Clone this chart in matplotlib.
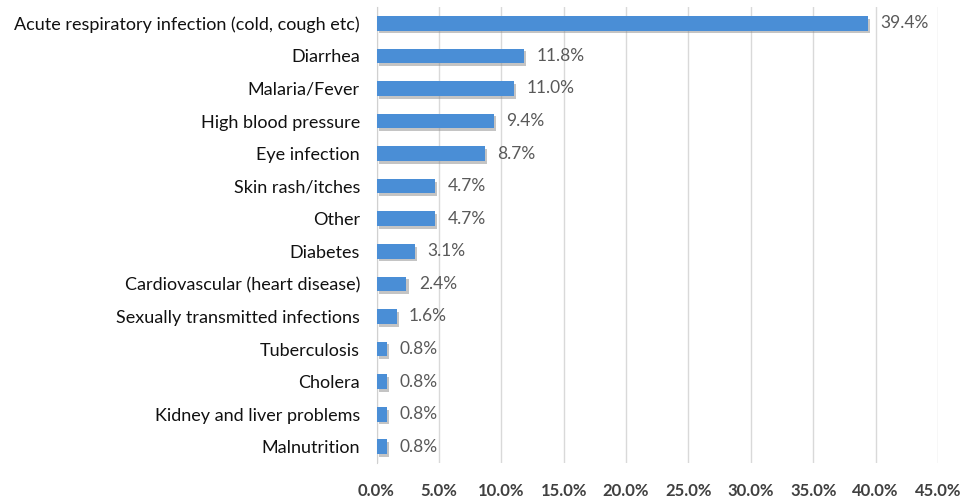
import matplotlib
matplotlib.use("Agg")
import matplotlib.pyplot as plt
import matplotlib.patheffects as pe
from matplotlib.ticker import FuncFormatter, MultipleLocator

categories = [
    "Acute respiratory infection (cold, cough etc)",
    "Diarrhea",
    "Malaria/Fever",
    "High blood pressure",
    "Eye infection",
    "Skin rash/itches",
    "Other",
    "Diabetes",
    "Cardiovascular (heart disease)",
    "Sexually transmitted infections",
    "Tuberculosis",
    "Cholera",
    "Kidney and liver problems",
    "Malnutrition",
]
values = [39.4, 11.8, 11.0, 9.4, 8.7, 4.7, 4.7, 3.1, 2.4, 1.6, 0.8, 0.8, 0.8, 0.8]

plt.rcParams["font.family"] = ["Lato", "DejaVu Sans"]

fig = plt.figure(figsize=(9.68, 4.99), dpi=100)
ax = fig.add_axes([0.389, 0.072, 0.58, 0.914])

y = list(range(len(categories)))
ax.barh(y, values, height=0.45, color="#4a8ed6", zorder=3,
        path_effects=[pe.SimplePatchShadow(offset=(1.5, -2), shadow_rgbFace="#8a8a8a", alpha=0.5),
                      pe.Normal()])
for yi, v in zip(y, values):
    ax.text(v + 1.0, yi, f"{v:.1f}%", va="center", ha="left", fontsize=12.5, color="#595959")

ax.set_ylim(len(categories) - 0.5, -0.5)
ax.set_xlim(0, 45)
ax.xaxis.set_major_locator(MultipleLocator(5))
ax.xaxis.set_major_formatter(FuncFormatter(lambda x, p: f"{x:.1f}%"))
ax.set_yticks(y)
ax.set_yticklabels(categories, fontsize=13.0, color="#111111")
for lbl in ax.get_xticklabels():
    lbl.set_fontweight("bold")
    lbl.set_color("#404040")
    lbl.set_fontsize(12)
ax.tick_params(axis="both", length=0)
ax.tick_params(axis="x", pad=14)
ax.tick_params(axis="y", pad=12)
ax.grid(axis="x", color="#d9d9d9", linewidth=1, zorder=0)
for s in ["top", "right", "bottom"]:
    ax.spines[s].set_visible(False)
ax.spines["left"].set_color("#d0d0d0")

fig.savefig("out.png", dpi=100, facecolor="white")
